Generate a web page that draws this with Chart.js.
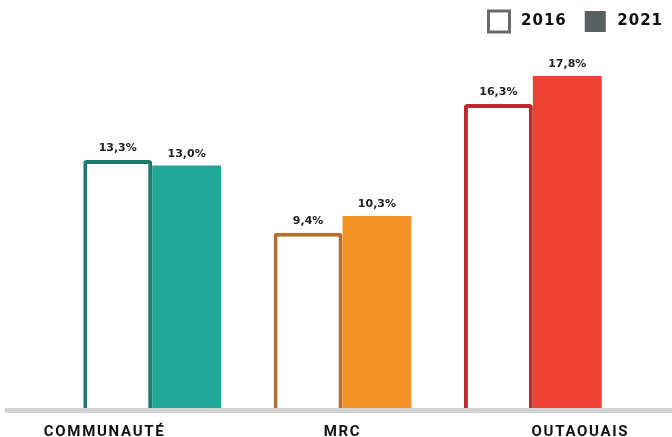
<!DOCTYPE html>
<html>
<head>
<meta charset="utf-8">
<script src="https://cdn.jsdelivr.net/npm/chart.js@4.4.1/dist/chart.umd.min.js"></script>
<style>
  html, body { margin: 0; padding: 0; background: #fff; }
  #wrap { width: 672px; height: 437px; }
</style>
</head>
<body>
<div id="wrap"><canvas id="chart"></canvas></div>
<script>
  var categories = ['COMMUNAUTÉ', 'MRC', 'OUTAOUAIS'];
  var years = ['2016', '2021'];
  var values2016 = [13.3, 9.4, 16.3];
  var values2021 = [13.0, 10.3, 17.8];

  var fill2021 = ['#22a696', '#f39325', '#ee4136'];
  var border2016 = ['#217a6f', '#b36f2c', '#c1272d'];

  function fmt(v) {
    return v.toFixed(1).replace('.', ',') + '%';
  }

  // letter spacing for legend text
  var spacingPlugin = {
    id: 'spacing',
    beforeLayout: function(chart) { chart.ctx.letterSpacing = '1px'; },
    beforeDraw: function(chart) { chart.ctx.letterSpacing = '1px'; }
  };

  var extrasPlugin = {
    id: 'extras',
    beforeDatasetsDraw: function(chart) {
      var ctx = chart.ctx;
      var y0 = chart.scales.y.getPixelForValue(0);
      ctx.save();
      ctx.fillStyle = '#d3d3d3';
      ctx.fillRect(5, y0, chart.width - 5, 5);
      ctx.restore();
    },
    afterDatasetsDraw: function(chart) {
      var ctx = chart.ctx;
      ctx.save();
      ctx.letterSpacing = '0px';
      ctx.font = 'bold 11px "DejaVu Sans"';
      ctx.fillStyle = '#222';
      ctx.textAlign = 'center';
      ctx.textBaseline = 'alphabetic';
      chart.data.datasets.forEach(function(ds, di) {
        chart.getDatasetMeta(di).data.forEach(function(bar, i) {
          ctx.fillText(fmt(ds.data[i]), bar.x, bar.y - 9);
        });
      });

      // category labels, spread wider than the bar groups
      var xs = chart.scales.x;
      var mid = xs.getPixelForValue(1);
      ctx.letterSpacing = '1.7px';
      ctx.font = 'bold 15px Roboto';
      ctx.fillStyle = '#111';
      categories.forEach(function(c, i) {
        var px = xs.getPixelForValue(i);
        ctx.fillText(c, mid + (px - mid) * 1.25, chart.chartArea.bottom + 28);
      });
      ctx.restore();
    }
  };

  new Chart(document.getElementById('chart'), {
    type: 'bar',
    data: {
      labels: categories,
      datasets: [{
        label: years[0],
        data: values2016,
        backgroundColor: '#ffffff',
        borderColor: border2016,
        borderWidth: 4,
        borderSkipped: 'bottom',
        borderRadius: 3
      }, {
        label: years[1],
        data: values2021,
        backgroundColor: fill2021,
        borderWidth: 0
      }]
    },
    options: {
      responsive: true,
      maintainAspectRatio: false,
      animation: false,
      layout: { padding: { left: 57, right: -9, top: -7, bottom: 29 } },
      datasets: { bar: { barPercentage: 1, categoryPercentage: 0.724 } },
      scales: {
        x: { display: false },
        y: {
          position: 'right',
          min: 0,
          max: 19.63,
          grid: { display: false },
          border: { display: false },
          ticks: { display: false },
          afterFit: function(scale) { scale.width = 53; }
        }
      },
      plugins: {
        tooltip: { enabled: false },
        legend: {
          position: 'top',
          align: 'end',
          labels: {
            boxWidth: 21,
            boxHeight: 21,
            padding: 18,
            color: '#111',
            font: { family: '"DejaVu Sans"', size: 15, weight: 'bold' },
            generateLabels: function(chart) {
              return years.map(function(y, i) {
                return {
                  text: '\u2009' + y,
                  datasetIndex: i,
                  fillStyle: i === 0 ? '#ffffff' : '#5a5f60',
                  strokeStyle: i === 0 ? '#6b6b6b' : '#5a5f60',
                  lineWidth: i === 0 ? 3 : 0,
                  fontColor: '#111'
                };
              });
            }
          }
        }
      }
    },
    plugins: [spacingPlugin, extrasPlugin]
  });
</script>
</body>
</html>
